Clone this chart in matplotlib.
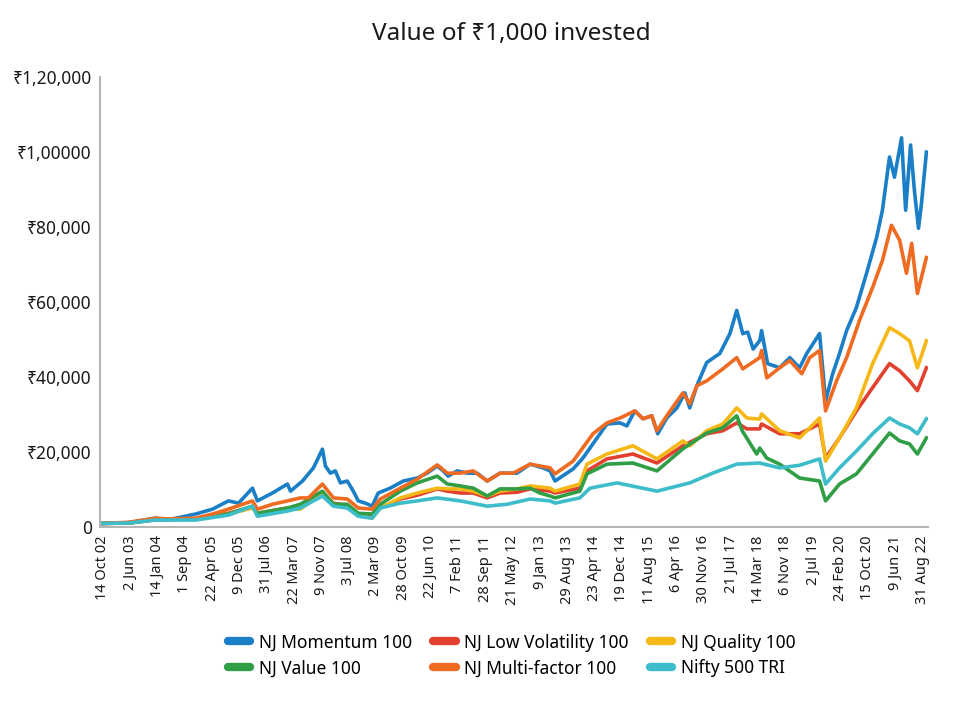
import matplotlib
matplotlib.use("Agg")
import matplotlib.pyplot as plt
from matplotlib.lines import Line2D

plt.rcParams['font.family'] = ['Noto Sans', 'DejaVu Sans']

tick_labels = ["14 Oct 02", "2 Jun 03", "14 Jan 04", "1 Sep 04", "22 Apr 05", "9 Dec 05",
               "31 Jul 06", "22 Mar 07", "9 Nov 07", "3 Jul 08", "2 Mar 09", "28 Oct 09",
               "22 Jun 10", "7 Feb 11", "28 Sep 11", "21 May 12", "9 Jan 13", "29 Aug 13",
               "23 Apr 14", "19 Dec 14", "11 Aug 15", "6 Apr 16", "30 Nov 16", "21 Jul 17",
               "14 Mar 18", "6 Nov 18", "2 Jul 19", "24 Feb 20", "15 Oct 20", "9 Jun 21",
               "31 Aug 22"]

y_ticks = [0, 20000, 40000, 60000, 80000, 100000, 120000]
y_tick_labels = ["0", "₹20,000", "₹40,000", "₹60,000", "₹80,000", "₹1,00000", "₹1,20,000"]

# x positions are in tick-period units (0 = 14 Oct 02 ... 30 = 31 Aug 22)
momentum_t = [0, 0.95, 1.94, 2.37, 3.40, 4.02, 4.60, 4.97, 5.48, 5.66, 6.21, 6.76, 6.87, 7.31,
              7.71, 8.04, 8.15, 8.33, 8.51, 8.70, 8.95, 9.17, 9.35, 9.61, 9.86, 10.08, 10.52,
              11.00, 11.51, 11.87, 12.24, 12.46, 12.64, 12.97, 13.34, 13.70, 14.07, 14.54,
              15.16, 15.64, 16.11, 16.37, 16.55, 17.21, 17.57, 18.09, 18.45, 18.93, 19.18,
              19.47, 19.77, 20.09, 20.31, 20.64, 21.01, 21.30, 21.48, 21.74, 22.10, 22.58,
              22.95, 23.20, 23.42, 23.60, 23.80, 24.04, 24.11, 24.33, 24.77, 25.14, 25.50,
              25.76, 26.23, 26.45, 26.71, 26.96, 27.22, 27.58, 27.95, 28.32, 28.53, 28.79,
              28.97, 29.23, 29.38, 29.56, 29.70, 29.85, 29.96, 30.14]
momentum_v = [1000, 1200, 2400, 1900, 3500, 4800, 7000, 6400, 10400, 7000, 9100, 11500, 9600,
              12300, 15800, 20800, 16300, 14400, 15000, 11800, 12300, 9600, 7000, 6400, 5600,
              9100, 10400, 12300, 13100, 14400, 16300, 15000, 13600, 15000, 14400, 14400,
              12300, 14400, 14400, 16800, 15800, 15000, 12300, 15500, 18400, 23800, 27500,
              27800, 27000, 31000, 28900, 29700, 24900, 29100, 31800, 35800, 31800, 37700,
              43900, 46300, 51600, 57800, 51600, 52000, 47500, 49700, 52400, 43600, 42500,
              45200, 42500, 46300, 51600, 33700, 40900, 46300, 52400, 58600, 67700, 77300,
              84500, 98700, 93300, 103800, 84500, 101900, 89800, 79700, 86400, 100000]

lowvol_t = [0, 0.95, 1.94, 3.40, 4.60, 5.48, 5.66, 6.76, 7.23, 8.04, 8.44, 8.95, 9.35, 9.86,
            10.16, 10.89, 11.51, 12.24, 12.61, 13.08, 13.56, 14.07, 14.54, 15.16, 15.64,
            16.37, 16.55, 17.46, 17.72, 18.45, 19.40, 20.28, 21.23, 22.10, 22.69, 23.20,
            23.57, 24.04, 24.11, 24.77, 25.50, 26.23, 26.45, 26.96, 27.58, 28.17, 28.79,
            29.16, 29.52, 29.81, 30.14]
lowvol_v = [1000, 1100, 2000, 2200, 3700, 5400, 3700, 5100, 5100, 8800, 6400, 5800, 3500,
            2700, 5100, 7500, 8500, 10200, 9600, 9100, 9100, 7800, 9100, 9300, 10200, 9600,
            9100, 10400, 15000, 18200, 19500, 17100, 21700, 24900, 25700, 27800, 26200,
            26200, 27500, 24900, 24900, 27500, 18400, 23800, 31000, 37200, 43600, 41700,
            39000, 36400, 42500]

quality_t = [0, 0.95, 1.94, 3.40, 4.60, 5.48, 5.66, 6.76, 7.23, 8.04, 8.44, 8.95, 9.35, 9.86,
             10.16, 10.89, 11.51, 12.24, 12.61, 13.08, 13.56, 14.07, 14.54, 15.16, 15.64,
             16.37, 16.55, 17.46, 17.72, 18.45, 19.40, 20.28, 21.23, 21.48, 22.10, 22.69,
             23.20, 23.57, 24.04, 24.11, 24.77, 25.50, 26.23, 26.45, 26.96, 27.58, 28.17,
             28.79, 29.16, 29.52, 29.81, 30.14]
quality_v = [1000, 1100, 2100, 2200, 3500, 5100, 3700, 4800, 4800, 9100, 6100, 5600, 3200,
             2400, 5100, 7800, 9100, 10400, 10200, 10200, 9600, 8300, 9600, 10200, 11000,
             10400, 9600, 11500, 16800, 19500, 21700, 18200, 23000, 21700, 25700, 27500,
             31800, 29100, 28800, 30200, 25700, 23800, 29100, 17600, 23800, 31800, 43600,
             53200, 51600, 49700, 42500, 49700]

value_t = [0, 0.95, 1.94, 3.40, 4.60, 5.48, 5.66, 6.76, 7.23, 8.04, 8.44, 8.95, 9.35, 9.86,
           10.16, 10.89, 11.51, 12.24, 12.61, 13.08, 13.56, 14.07, 14.54, 15.16, 15.64, 16.00,
           16.37, 16.55, 17.46, 17.72, 18.45, 19.40, 20.28, 21.23, 22.10, 22.69, 23.20, 23.40,
           23.93, 24.04, 24.30, 24.77, 25.50, 26.23, 26.45, 26.96, 27.58, 28.17, 28.79, 29.16,
           29.52, 29.81, 30.14]
value_v = [1000, 1100, 2000, 2100, 3500, 5600, 3700, 5100, 6100, 9600, 6100, 6100, 3700,
           3500, 6100, 9600, 11800, 13600, 11500, 11000, 10400, 8300, 10200, 10200, 10400,
           9100, 8300, 7800, 9600, 14200, 16800, 17100, 15000, 20900, 25100, 26500, 29700,
           25700, 19500, 21100, 18400, 16800, 13100, 12300, 7000, 11500, 14200, 19500, 25100,
           23000, 22200, 19500, 23800]

multifactor_t = [0, 0.95, 1.94, 2.37, 3.40, 4.02, 4.60, 5.48, 5.66, 6.21, 6.76, 7.23, 7.53,
                 8.04, 8.44, 8.95, 9.35, 9.86, 10.16, 10.89, 11.51, 12.24, 12.61, 13.08,
                 13.56, 14.07, 14.54, 15.02, 15.64, 16.37, 16.55, 17.21, 17.94, 18.45, 18.93,
                 19.47, 19.77, 20.09, 20.28, 20.64, 21.23, 21.48, 21.74, 22.10, 22.69, 23.20,
                 23.42, 24.04, 24.11, 24.30, 24.77, 25.14, 25.58, 25.87, 26.23, 26.45, 26.85,
                 27.22, 27.69, 28.17, 28.53, 28.86, 29.16, 29.41, 29.60, 29.81, 30.14]
multifactor_v = [1000, 1300, 2400, 2200, 2400, 3500, 4800, 7000, 4800, 6100, 7000, 7800, 7800,
                 11500, 7800, 7500, 5100, 4800, 7500, 10400, 12800, 16600, 14400, 14400,
                 15000, 12300, 14400, 14400, 16800, 15800, 14200, 17600, 24900, 27800, 29100,
                 31000, 28900, 29700, 25700, 29700, 35800, 32900, 37700, 39000, 42200, 45200,
                 42200, 45200, 47100, 39800, 42500, 44400, 40900, 45200, 47100, 31000, 39000,
                 45200, 55100, 63900, 71100, 80500, 76500, 67700, 75700, 62300, 71900]

nifty_t = [0, 0.95, 1.94, 3.40, 4.60, 5.48, 5.66, 6.76, 7.23, 8.04, 8.44, 8.95, 9.35, 9.86,
           10.16, 10.89, 11.51, 12.24, 13.08, 14.07, 14.80, 15.64, 16.37, 16.55, 17.46, 17.83,
           18.82, 20.28, 21.48, 22.32, 23.20, 24.04, 24.77, 25.50, 26.23, 26.45, 26.96, 27.58,
           28.17, 28.79, 29.16, 29.52, 29.81, 30.14]
nifty_v = [1000, 1100, 1900, 1900, 3200, 5600, 2900, 4300, 5100, 8300, 5600, 5100, 2900, 2400,
           5100, 6400, 7000, 7800, 7000, 5600, 6100, 7500, 7000, 6400, 7800, 10400, 11800,
           9600, 11800, 14400, 16800, 17100, 15800, 16500, 18200, 11500, 15800, 20300, 24900,
           29100, 27500, 26500, 24900, 28900]

series = [
    ("NJ Momentum 100", momentum_t, momentum_v, "#1a7fc6"),
    ("NJ Low Volatility 100", lowvol_t, lowvol_v, "#e2412f"),
    ("NJ Quality 100", quality_t, quality_v, "#f6b817"),
    ("NJ Value 100", value_t, value_v, "#2f9e45"),
    ("NJ Multi-factor 100", multifactor_t, multifactor_v, "#f06b22"),
    ("Nifty 500 TRI", nifty_t, nifty_v, "#3dbdc9"),
]

fig = plt.figure(figsize=(9.8, 7.01), dpi=100)
ax = fig.add_axes([0.102, 0.248, 0.845, 0.642])

handles = {}
for name, t, v, c in series:
    ax.plot(t, v, color=c, lw=2.6, solid_joinstyle='round')
    handles[name] = Line2D([], [], color=c, lw=6, solid_capstyle='round')

ax.set_xlim(-0.1, 30.2)
ax.set_ylim(0, 120000)
ax.set_yticks(y_ticks)
ax.set_yticklabels(y_tick_labels, fontsize=12.5, color="#1a1a1a")
ax.set_xticks(range(len(tick_labels)))
ax.set_xticklabels(tick_labels, rotation=90, fontsize=10.5, color="#1a1a1a")
ax.tick_params(length=0, pad=6)
for s in ["top", "right"]:
    ax.spines[s].set_visible(False)
for s in ["left", "bottom"]:
    ax.spines[s].set_color("#b5b5b5")
    ax.spines[s].set_linewidth(1.5)

fig.text(0.522, 0.951, "Value of ₹1,000 invested", ha="center", va="center",
         fontsize=17.5, color="#1a1a1a")

order = ["NJ Momentum 100", "NJ Value 100", "NJ Low Volatility 100",
         "NJ Multi-factor 100", "NJ Quality 100", "Nifty 500 TRI"]
fig.legend([handles[n] for n in order], order, loc="center", ncol=3,
           bbox_to_anchor=(0.522, 0.065), frameon=False, fontsize=12.5,
           handlelength=1.3, handletextpad=0.5, columnspacing=1.2, labelspacing=0.45)

fig.savefig("out.png", dpi=100)
